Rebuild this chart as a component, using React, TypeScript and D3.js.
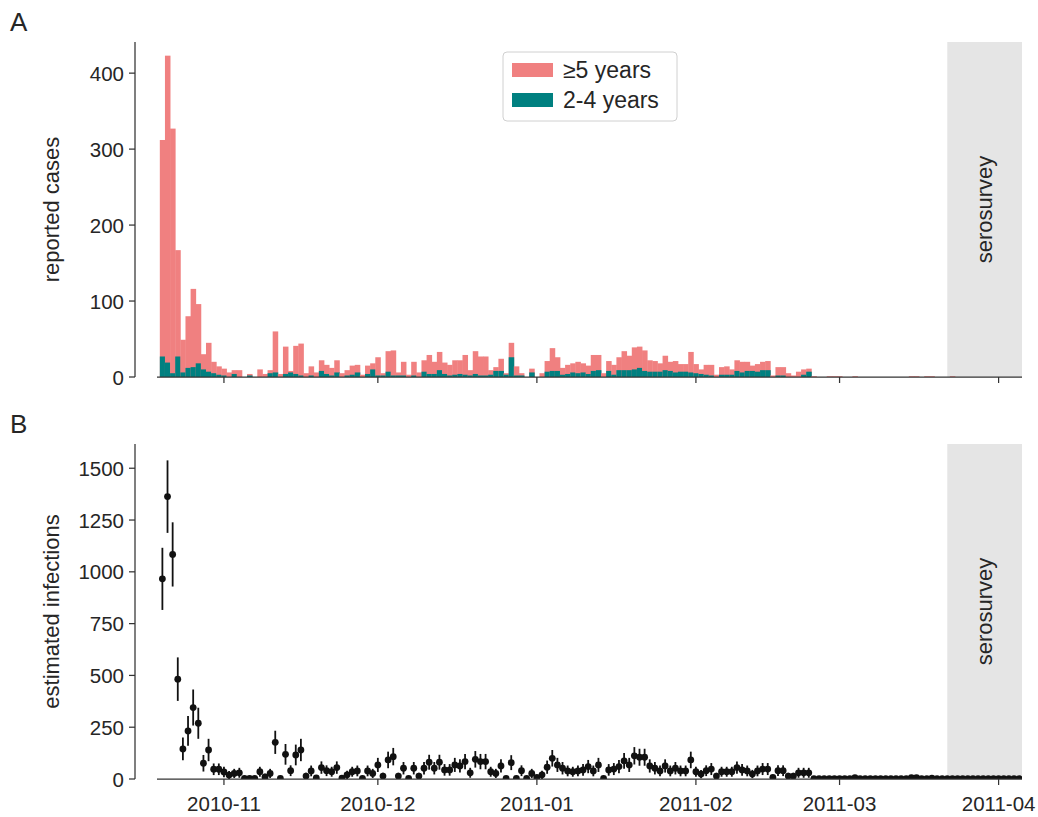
import React from 'react';
import * as d3 from 'd3';

const startDate = '2010-10-20';
const serosurveyStart = '2011-03-22';
const xDomain = ['2010-10-18T22:48:00Z', '2011-04-05T13:30:00Z'];

// reported cases per day, >=5 years (starting 2010-10-20)
const casesOver5 = [
  285, 404, 322, 140, 43, 68, 103, 78, 20, 38,
  15, 11, 9, 6, 5, 9, 0, 2, 0, 10,
  4, 4, 54, 4, 36, 2, 37, 42, 5, 12,
  6, 14, 12, 10, 16, 5, 7, 12, 10, 3,
  11, 8, 24, 3, 27, 33, 4, 18, 3, 18,
  6, 15, 25, 16, 24, 15, 14, 19, 18, 26,
  7, 30, 25, 25, 6, 5, 16, 2, 19, 12,
  3, 0, 5, 0, 5, 14, 30, 18, 9, 12,
  12, 15, 12, 11, 21, 20, 5, 13, 13, 17,
  25, 19, 29, 28, 27, 15, 14, 11, 19, 12,
  15, 10, 10, 27, 12, 6, 13, 14, 3, 10,
  11, 7, 14, 14, 12, 7, 10, 11, 12, 2,
  11, 11, 5, 2, 7, 7, 4, 1, 0, 0,
  1, 1, 1, 0, 0, 1, 0, 0, 0, 0,
  0, 0, 0, 0, 0, 0, 1, 1, 0, 1,
  1, 0, 0, 0, 1, 0, 0, 0, 0, 0,
  0, 0, 0, 0, 0, 0, 0, 0,
];

// reported cases per day, 2-4 years
const cases2to4 = [
  27, 19, 5, 27, 6, 12, 13, 18, 10, 7,
  5, 3, 2, 0, 4, 0, 0, 2, 0, 0,
  0, 5, 6, 0, 4, 6, 4, 2, 0, 2,
  0, 8, 4, 2, 6, 0, 2, 3, 6, 0,
  4, 10, 2, 2, 7, 2, 2, 2, 0, 2,
  0, 7, 4, 4, 9, 4, 2, 3, 4, 3,
  2, 4, 2, 2, 3, 8, 8, 3, 26, 2,
  2, 0, 6, 0, 0, 7, 8, 8, 3, 4,
  6, 5, 6, 4, 8, 9, 0, 8, 3, 9,
  9, 9, 10, 12, 8, 7, 7, 7, 9, 8,
  6, 7, 7, 6, 5, 4, 3, 2, 0, 3,
  3, 3, 8, 6, 8, 8, 7, 9, 9, 0,
  2, 2, 0, 0, 0, 3, 7, 0, 0, 0,
  0, 0, 0, 0, 0, 0, 0, 0, 0, 0,
  0, 0, 0, 0, 0, 0, 0, 0, 0, 0,
  0, 0, 0, 0, 0, 0, 0, 0, 0, 0,
  0, 0, 0, 0, 0, 0, 0, 0,
];

// estimated infections per day
const infections = [
  966, 1363, 1084, 482, 145, 232, 345, 269, 76, 140,
  47, 47, 34, 19, 27, 30, 3, 3, 3, 35,
  10, 27, 177, 3, 119, 40, 116, 140, 14, 39,
  5, 55, 40, 35, 55, 4, 20, 35, 39, 3,
  39, 27, 68, 14, 92, 108, 14, 52, 3, 52,
  14, 52, 81, 52, 81, 44, 44, 68, 63, 84,
  30, 95, 84, 84, 35, 27, 63, 3, 79, 3,
  40, 3, 27, 8, 20, 57, 100, 68, 52, 39,
  35, 39, 44, 60, 39, 68, 3, 44, 48, 60,
  87, 68, 112, 105, 105, 63, 52, 39, 63, 39,
  52, 39, 39, 92, 35, 24, 40, 48, 14, 35,
  35, 35, 55, 44, 39, 24, 39, 48, 48, 8,
  40, 40, 14, 14, 30, 30, 30, 2, 2, 2,
  2, 2, 2, 2, 2, 6, 2, 2, 2, 2,
  2, 2, 2, 2, 2, 2, 6, 6, 2, 2,
  4, 2, 2, 2, 2, 2, 2, 2, 2, 2,
  2, 2, 2, 2, 2, 2, 2, 2,
];

// half-width of the uncertainty interval
const infectionsErr = [
  150, 175, 155, 105, 55, 72, 87, 75, 40, 54,
  28, 28, 25, 20, 22, 24, 3, 3, 3, 24,
  15, 22, 56, 3, 50, 26, 50, 54, 16, 26,
  8, 30, 26, 24, 30, 6, 20, 24, 26, 3,
  26, 22, 34, 16, 40, 42, 16, 30, 3, 30,
  16, 30, 36, 30, 36, 28, 28, 34, 32, 37,
  24, 40, 37, 37, 24, 22, 32, 3, 36, 3,
  26, 3, 22, 10, 20, 32, 40, 34, 30, 26,
  24, 26, 28, 32, 26, 34, 3, 28, 29, 32,
  38, 34, 42, 41, 41, 32, 30, 26, 32, 26,
  30, 26, 26, 40, 24, 20, 26, 29, 16, 24,
  24, 24, 30, 28, 26, 20, 26, 29, 29, 10,
  26, 26, 16, 16, 24, 24, 24, 2, 2, 2,
  2, 2, 2, 2, 2, 5, 2, 2, 2, 2,
  2, 2, 2, 2, 2, 2, 5, 5, 2, 2,
  4, 2, 2, 2, 2, 2, 2, 2, 2, 2,
  2, 2, 2, 2, 2, 2, 2, 2,
];

const yTicksA = [0, 100, 200, 300, 400];
const yTicksB = [0, 250, 500, 750, 1000, 1250, 1500];
const xTickMonths = ['2010-11-01', '2010-12-01', '2011-01-01', '2011-02-01', '2011-03-01', '2011-04-01'];
const legendLabels = ['\u22655 years', '2-4 years'];
const yMaxA = 441;
const yMaxB = 1617;

const SALMON = '#F08080';
const TEAL = '#008080';
const SHADE = '#e5e5e5';
const TXT = '#262626';
const AX = '#333333';
const FONT = '"Liberation Sans", Arial, Helvetica, sans-serif';

const W = 1038;
const H = 817;
const left = 157;
const right = 1022;
const spineX = 135;
const panelA = { top: 42, bottom: 377 };
const panelB = { top: 444, bottom: 779 };

export default function App() {
  const t0 = new Date(startDate + 'T00:00:00Z');
  const dates = casesOver5.map((_, i) => d3.utcDay.offset(t0, i));
  const x = d3.scaleUtc()
    .domain([new Date(xDomain[0]), new Date(xDomain[1])])
    .range([left, right]);
  const yA = d3.scaleLinear().domain([0, yMaxA]).range([panelA.bottom, panelA.top]);
  const yB = d3.scaleLinear().domain([0, yMaxB]).range([panelB.bottom, panelB.top]);
  const half = (dt: Date) => [x(d3.utcHour.offset(dt, -12)), x(d3.utcHour.offset(dt, 12))];
  const ticks = xTickMonths.map((s) => new Date(s + 'T00:00:00Z'));
  const fmt = d3.utcFormat('%Y-%m');
  const seroX = x(new Date(serosurveyStart + 'T00:00:00Z'));

  const tickSize = 20.5;
  const labelSize = 22;

  const yAxis = (scale: any, ticksArr: number[], top: number, bottom: number) => (
    <g>
      <line x1={spineX} x2={spineX} y1={top} y2={bottom} stroke={AX} strokeWidth={1.25} />
      {ticksArr.map((t) => (
        <g key={t}>
          <line x1={spineX - 6} x2={spineX} y1={scale(t)} y2={scale(t)} stroke={AX} strokeWidth={1.25} />
          <text x={spineX - 11} y={scale(t)} textAnchor="end" dominantBaseline="central"
            fontSize={tickSize} fill={TXT} fontFamily={FONT}>{t}</text>
        </g>
      ))}
    </g>
  );

  const xAxis = (bottom: number, labels: boolean) => (
    <g>
      <line x1={left} x2={right} y1={bottom} y2={bottom} stroke={AX} strokeWidth={1.25} />
      {ticks.map((t, i) => (
        <g key={i}>
          <line x1={x(t)} x2={x(t)} y1={bottom} y2={bottom + 6} stroke={AX} strokeWidth={1.25} />
          {labels && (
            <text x={x(t)} y={bottom + 24} textAnchor="middle" dominantBaseline="central"
              fontSize={tickSize} fill={TXT} fontFamily={FONT}>{fmt(t)}</text>
          )}
        </g>
      ))}
    </g>
  );

  const sero = (top: number, bottom: number) => (
    <g>
      <rect x={seroX} y={top} width={right - seroX} height={bottom - top} fill={SHADE} />
      <text transform={`translate(${(seroX + right) / 2},${(top + bottom) / 2}) rotate(-90)`}
        textAnchor="middle" dominantBaseline="central" fontSize={labelSize} fill={TXT} fontFamily={FONT}>
        serosurvey
      </text>
    </g>
  );

  return (
    <svg width={W} height={H} style={{ position: 'absolute', left: 0, top: 0, background: '#fff' }}>
      <defs>
        <clipPath id="clipB">
          <rect x={left} y={panelB.top} width={right - left} height={panelB.bottom - panelB.top} />
        </clipPath>
      </defs>
      <rect x={0} y={0} width={W} height={H} fill="#fff" />
      {/* Panel A */}
      {sero(panelA.top, panelA.bottom)}
      <g>
        {dates.map((dt, i) => {
          const [x0, x1] = half(dt);
          const total = casesOver5[i] + cases2to4[i];
          if (total <= 0) return null;
          return (
            <g key={i}>
              <rect x={x0} width={x1 - x0 + 0.4} y={yA(total)} height={yA(0) - yA(total)} fill={SALMON} />
              {cases2to4[i] > 0 && (
                <rect x={x0} width={x1 - x0 + 0.4} y={yA(cases2to4[i])} height={yA(0) - yA(cases2to4[i])} fill={TEAL} />
              )}
            </g>
          );
        })}
      </g>
      {yAxis(yA, yTicksA, panelA.top, panelA.bottom)}
      {xAxis(panelA.bottom, false)}
      <text transform={`translate(51,${(panelA.top + panelA.bottom) / 2}) rotate(-90)`} textAnchor="middle"
        dominantBaseline="central" fontSize={labelSize} fill={TXT} fontFamily={FONT}>reported cases</text>
      <text x={10} y={31} fontSize={26} fill={TXT} fontFamily={FONT}>A</text>
      {/* legend */}
      <g>
        <rect x={503} y={52} width={174} height={69} rx={4} fill="#fff" fillOpacity={0.8} stroke="#d0d0d0" strokeWidth={1} />
        {legendLabels.map((lab, i) => (
          <g key={lab}>
            <rect x={512} y={63 + i * 30} width={41} height={14} fill={i === 0 ? SALMON : TEAL} />
            <text x={563} y={70 + i * 30} dominantBaseline="central" fontSize={23} fill={TXT} fontFamily={FONT}>{lab}</text>
          </g>
        ))}
      </g>

      {/* Panel B */}
      {sero(panelB.top, panelB.bottom)}
      <g clipPath="url(#clipB)">
        {dates.map((dt, i) => {
          const cx = x(dt);
          const v = infections[i];
          const e = infectionsErr[i];
          return (
            <g key={i}>
              <line x1={cx} x2={cx} y1={yB(Math.max(0, v - e))} y2={yB(v + e)} stroke="#111" strokeWidth={1.8} />
              <circle cx={cx} cy={yB(v)} r={3.4} fill="#111" />
            </g>
          );
        })}
      </g>
      {yAxis(yB, yTicksB, panelB.top, panelB.bottom)}
      {xAxis(panelB.bottom, true)}
      <text transform={`translate(51,${(panelB.top + panelB.bottom) / 2}) rotate(-90)`} textAnchor="middle"
        dominantBaseline="central" fontSize={labelSize} fill={TXT} fontFamily={FONT}>estimated infections</text>
      <text x={10} y={433} fontSize={26} fill={TXT} fontFamily={FONT}>B</text>
    </svg>
  );
}
